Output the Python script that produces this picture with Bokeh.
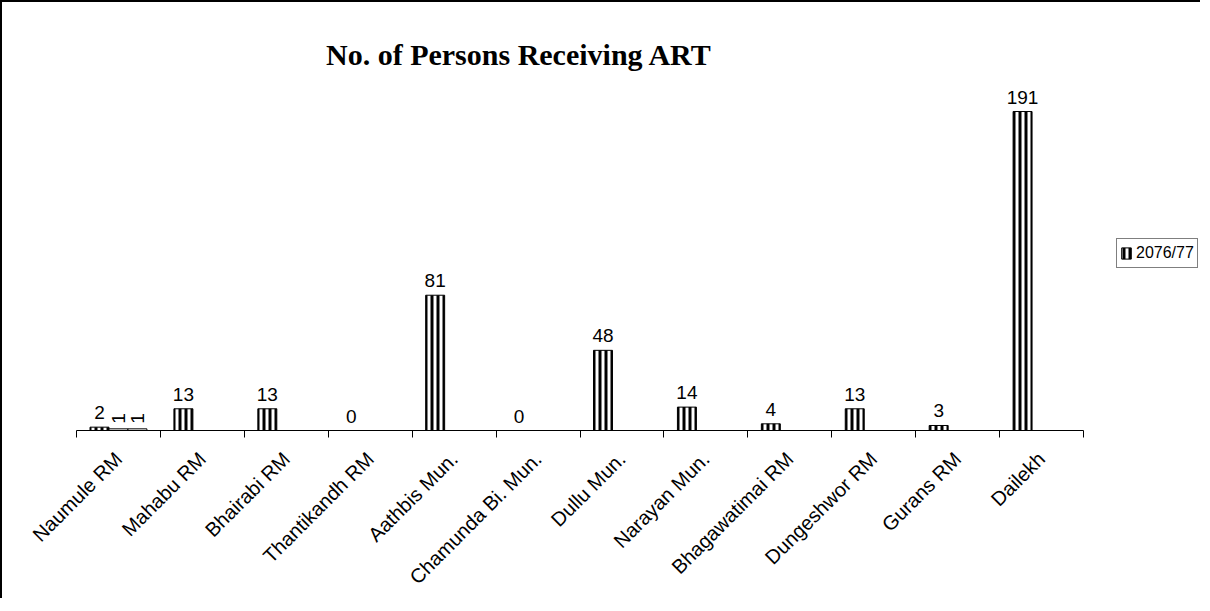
import math
from bokeh.plotting import figure
from bokeh.models import ColumnDataSource, FixedTicker, LabelSet, Label, Legend, LegendItem
from bokeh.core.properties import value
from bokeh.transform import dodge
from bokeh.embed import file_html
from bokeh.resources import INLINE

categories = ["Naumule RM", "Mahabu RM", "Bhairabi RM", "Thantikandh RM", "Aathbis Mun.",
              "Chamunda Bi. Mun.", "Dullu Mun.", "Narayan Mun.", "Bhagawatimai RM",
              "Dungeshwor RM", "Gurans RM", "Dailekh"]
art_2076_77 = [2, 13, 13, 0, 81, 0, 48, 14, 4, 13, 3, 191]
extra_a = [1]
extra_b = [1]
series_name = "2076/77"

n = len(categories)
centers = [i + 0.5 for i in range(n)]
slot = 0.226

src = ColumnDataSource(dict(x=centers, v=art_2076_77, t=[str(v) for v in art_2076_77]))
src_a = ColumnDataSource(dict(x=centers[:1], v=extra_a, t=[str(v) for v in extra_a]))
src_b = ColumnDataSource(dict(x=centers[:1], v=extra_b, t=[str(v) for v in extra_b]))

W, H = 1200, 598
left, bottom = 74, 170
cat_px = 1007 / n
x_max = (W - left) / cat_px
y_px = 334 / 200
y_max = (H - bottom) / y_px

p = figure(width=W, height=H, x_range=(0, x_max), y_range=(0, y_max),
           output_backend="svg", toolbar_location=None,
           min_border_left=left, min_border_right=0, min_border_top=0, min_border_bottom=bottom)
p.outline_line_color = None
p.grid.visible = False
p.yaxis.visible = False
p.styles = {"border-left": "2px solid black", "border-top": "2px solid black"}

r = p.vbar(x=dodge("x", -slot, range=p.x_range), top="v", width=slot, source=src,
           fill_color="white", line_color="black", line_width=1,
           hatch_pattern="vertical_line", hatch_color="black", hatch_scale=6, hatch_weight=3)
p.vbar(x=dodge("x", 0, range=p.x_range), top="v", width=slot, source=src_a,
       fill_color="white", line_color="black", line_width=1)
p.vbar(x=dodge("x", slot, range=p.x_range), top="v", width=slot, source=src_b,
       fill_color="white", line_color="black", line_width=1)

lab_font = "Liberation Sans"
p.add_layout(LabelSet(x=dodge("x", -slot, range=p.x_range), y="v", text="t", source=src,
                      text_align="center", text_baseline="bottom", y_offset=8,
                      text_font=value(lab_font), text_font_size=value("19px"), text_color="black"))
for s, off in ((src_a, 0), (src_b, slot)):
    p.add_layout(LabelSet(x=dodge("x", off, range=p.x_range), y="v", text="t", source=s,
                          text_align="left", text_baseline="middle", y_offset=5, angle=math.pi / 2,
                          text_font=value(lab_font), text_font_size=value("19px"), text_color="black"))

ax = p.xaxis[0]
ax.bounds = (0, n)
ax.ticker = FixedTicker(ticks=centers, minor_ticks=list(range(n + 1)))
ax.major_label_overrides = {c: cat for c, cat in zip(centers, categories)}
ax.major_label_orientation = math.pi / 4
ax.major_label_text_font = lab_font
ax.major_label_text_font_size = "20px"
ax.major_label_text_color = "black"
ax.major_label_standoff = 18
ax.major_tick_out = 0
ax.major_tick_in = 0
ax.minor_tick_out = 7
ax.minor_tick_in = 0
ax.minor_tick_line_color = "black"
ax.axis_line_color = "black"
ax.axis_line_width = 1

p.add_layout(Label(x=5.32, y=225, text="No.  of Persons Receiving ART", text_align="center",
                   text_baseline="alphabetic", text_font="Liberation Serif", text_font_style="bold",
                   text_font_size="30px", text_color="black"))

legend = Legend(items=[LegendItem(label=series_name, renderers=[r])], location=(1040, 162),
                border_line_color="black", border_line_width=1, padding=3, spacing=0, margin=0,
                label_text_font=lab_font, label_text_font_size="16px", label_text_color="black",
                label_standoff=4, glyph_width=12, glyph_height=14, label_height=22,
                background_fill_alpha=1)
p.add_layout(legend)

open("out.html", "w").write(file_html(p, INLINE))
